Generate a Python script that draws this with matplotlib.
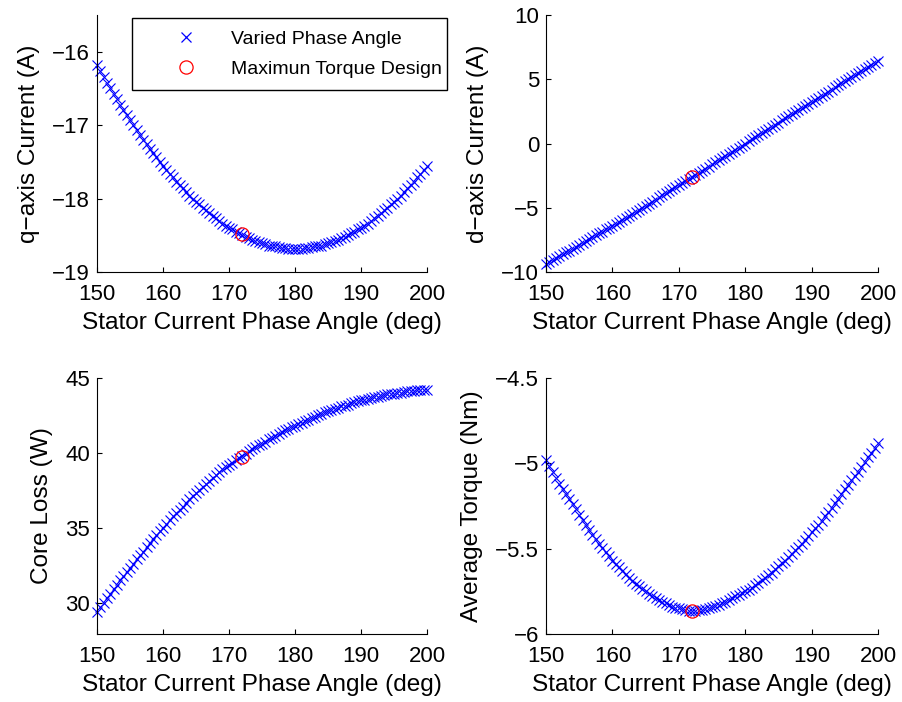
import matplotlib
matplotlib.use("Agg")
import matplotlib.pyplot as plt
from matplotlib.lines import Line2D

# Stator current phase angle sweep (deg)
phase_angle = [150.0, 150.5, 151.0, 151.5, 152.0, 152.5, 153.0, 153.5, 154.0, 154.5,
               155.0, 155.5, 156.0, 156.5, 157.0, 157.5, 158.0, 158.5, 159.0, 159.5,
               160.0, 160.5, 161.0, 161.5, 162.0, 162.5, 163.0, 163.5, 164.0, 164.5,
               165.0, 165.5, 166.0, 166.5, 167.0, 167.5, 168.0, 168.5, 169.0, 169.5,
               170.0, 170.5, 171.0, 171.5, 172.0, 172.5, 173.0, 173.5, 174.0, 174.5,
               175.0, 175.5, 176.0, 176.5, 177.0, 177.5, 178.0, 178.5, 179.0, 179.5,
               180.0, 180.5, 181.0, 181.5, 182.0, 182.5, 183.0, 183.5, 184.0, 184.5,
               185.0, 185.5, 186.0, 186.5, 187.0, 187.5, 188.0, 188.5, 189.0, 189.5,
               190.0, 190.5, 191.0, 191.5, 192.0, 192.5, 193.0, 193.5, 194.0, 194.5,
               195.0, 195.5, 196.0, 196.5, 197.0, 197.5, 198.0, 198.5, 199.0, 199.5,
               200.0]

q_current = [-16.18, -16.26, -16.34, -16.42, -16.49, -16.57, -16.64, -16.72, -16.79, -16.86,
             -16.93, -17.00, -17.06, -17.13, -17.20, -17.26, -17.32, -17.38, -17.44, -17.50,
             -17.55, -17.61, -17.66, -17.71, -17.77, -17.82, -17.86, -17.91, -17.96, -18.00,
             -18.04, -18.08, -18.13, -18.16, -18.20, -18.24, -18.27, -18.30, -18.34, -18.37,
             -18.40, -18.42, -18.45, -18.47, -18.50, -18.52, -18.54, -18.56, -18.58, -18.59,
             -18.61, -18.62, -18.64, -18.64, -18.65, -18.66, -18.67, -18.67, -18.68, -18.68,
             -18.68, -18.68, -18.68, -18.67, -18.67, -18.66, -18.65, -18.64, -18.64, -18.62,
             -18.61, -18.59, -18.58, -18.56, -18.54, -18.52, -18.50, -18.47, -18.45, -18.42,
             -18.40, -18.37, -18.34, -18.30, -18.27, -18.24, -18.20, -18.16, -18.13, -18.08,
             -18.04, -18.00, -17.96, -17.91, -17.86, -17.82, -17.77, -17.71, -17.66, -17.61,
             -17.55]

d_current = [-9.34, -9.20, -9.06, -8.91, -8.77, -8.62, -8.48, -8.34, -8.19, -8.04,
             -7.89, -7.75, -7.60, -7.45, -7.30, -7.15, -7.00, -6.85, -6.69, -6.54,
             -6.39, -6.24, -6.08, -5.93, -5.77, -5.62, -5.46, -5.31, -5.15, -4.99,
             -4.83, -4.68, -4.52, -4.36, -4.20, -4.04, -3.88, -3.72, -3.56, -3.40,
             -3.24, -3.08, -2.92, -2.76, -2.60, -2.44, -2.28, -2.11, -1.95, -1.79,
             -1.63, -1.47, -1.30, -1.14, -0.98, -0.81, -0.65, -0.49, -0.33, -0.16,
             0.00, 0.16, 0.33, 0.49, 0.65, 0.81, 0.98, 1.14, 1.30, 1.47,
             1.63, 1.79, 1.95, 2.11, 2.28, 2.44, 2.60, 2.76, 2.92, 3.08,
             3.24, 3.40, 3.56, 3.72, 3.88, 4.04, 4.20, 4.36, 4.52, 4.68,
             4.83, 4.99, 5.15, 5.31, 5.46, 5.62, 5.77, 5.93, 6.08, 6.24,
             6.39]

core_loss = [29.4, 29.7, 30.0, 30.3, 30.6, 30.9, 31.2, 31.5, 31.8, 32.05,
             32.3, 32.6, 32.9, 33.15, 33.4, 33.7, 34.0, 34.25, 34.5, 34.75,
             35.0, 35.25, 35.5, 35.75, 36.0, 36.2, 36.4, 36.65, 36.9, 37.1,
             37.3, 37.5, 37.7, 37.9, 38.1, 38.3, 38.5, 38.7, 38.9, 39.05,
             39.2, 39.35, 39.5, 39.65, 39.8, 39.95, 40.1, 40.25, 40.4, 40.5,
             40.6, 40.75, 40.9, 41.0, 41.1, 41.25, 41.4, 41.5, 41.6, 41.7,
             41.8, 41.9, 42.0, 42.1, 42.2, 42.3, 42.4, 42.5, 42.6, 42.7,
             42.8, 42.85, 42.9, 43.0, 43.1, 43.15, 43.2, 43.3, 43.4, 43.45,
             43.5, 43.55, 43.6, 43.65, 43.7, 43.75, 43.8, 43.85, 43.9, 43.93,
             43.95, 43.98, 44.0, 44.05, 44.1, 44.13, 44.15, 44.18, 44.2, 44.2,
             44.2]

avg_torque = [-4.98, -5.015, -5.05, -5.085, -5.12, -5.15, -5.18, -5.21, -5.24, -5.27,
              -5.30, -5.33, -5.36, -5.39, -5.42, -5.445, -5.47, -5.495, -5.52, -5.545,
              -5.57, -5.59, -5.61, -5.63, -5.65, -5.67, -5.69, -5.705, -5.72, -5.735,
              -5.75, -5.765, -5.78, -5.79, -5.80, -5.81, -5.82, -5.83, -5.84, -5.845,
              -5.85, -5.855, -5.86, -5.863, -5.865, -5.863, -5.86, -5.858, -5.855, -5.848,
              -5.84, -5.835, -5.83, -5.82, -5.81, -5.80, -5.79, -5.78, -5.77, -5.76,
              -5.75, -5.74, -5.73, -5.715, -5.70, -5.685, -5.67, -5.655, -5.64, -5.62,
              -5.60, -5.585, -5.57, -5.55, -5.53, -5.51, -5.49, -5.47, -5.45, -5.425,
              -5.40, -5.38, -5.36, -5.335, -5.31, -5.285, -5.26, -5.235, -5.21, -5.18,
              -5.15, -5.125, -5.10, -5.075, -5.05, -5.02, -4.99, -4.965, -4.94, -4.91,
              -4.88]

# Maximum torque design point
design_angle = 172
design_q = -18.48
design_d = -2.60
design_loss = 39.7
design_torque = -5.865

x_ticks = [150, 160, 170, 180, 190, 200]
x_label = "Stator Current Phase Angle (deg)"

plt.rcParams["font.family"] = ["Liberation Sans", "DejaVu Sans"]
plt.rcParams["font.size"] = 16

fig = plt.figure(figsize=(9.02, 7.02), dpi=100)

W, H = 902.0, 702.0


def make_axes(x0, x1, y0, y1):
    return fig.add_axes([x0 / W, 1 - y1 / H, (x1 - x0) / W, (y1 - y0) / H])


panels = [
    (make_axes(97, 427, 15, 272), q_current, design_q, "q\u2212axis Current (A)",
     (-19, -15.5), [-19, -18, -17, -16], ["\u221219", "\u221218", "\u221217", "\u221216"]),
    (make_axes(546, 878, 15, 272), d_current, design_d, "d\u2212axis Current (A)",
     (-10, 10), [-10, -5, 0, 5, 10], ["\u221210", "\u22125", "0", "5", "10"]),
    (make_axes(97, 427, 378, 634), core_loss, design_loss, "Core Loss (W)",
     (27.9, 45), [30, 35, 40, 45], ["30", "35", "40", "45"]),
    (make_axes(546, 878, 378, 634), avg_torque, design_torque, "Average Torque (Nm)",
     (-6, -4.5), [-6, -5.5, -5, -4.5], ["\u22126", "\u22125.5", "\u22125", "\u22124.5"]),
]

for ax, values, design_val, ylab, ylim, yticks, yticklabels in panels:
    ax.plot(phase_angle, values, linestyle="none", marker="x", color=(0, 0, 1),
            markersize=7, markeredgewidth=0.8, clip_on=False)
    ax.plot([design_angle], [design_val], linestyle="none", marker="o",
            markerfacecolor="none", markeredgecolor=(1, 0, 0), markersize=9.5,
            markeredgewidth=0.9, clip_on=False)
    ax.set_xlim(150, 200)
    ax.set_ylim(*ylim)
    ax.set_xticks(x_ticks)
    ax.set_yticks(yticks)
    ax.set_yticklabels(yticklabels)
    ax.set_xlabel(x_label, fontsize=17.6, labelpad=5)
    ax.set_ylabel(ylab, fontsize=17.6, labelpad=9)
    for side in ("top", "right"):
        ax.spines[side].set_visible(False)
    for side in ("left", "bottom"):
        ax.spines[side].set_linewidth(0.8)
    ax.tick_params(direction="in", length=3.5, width=0.8, labelsize=16)
    ax.tick_params(axis="x", pad=9)
    ax.tick_params(axis="y", pad=5)

handles = [
    Line2D([], [], linestyle="none", marker="x", color=(0, 0, 1), markersize=7,
           markeredgewidth=0.9),
    Line2D([], [], linestyle="none", marker="o", markerfacecolor="none",
           markeredgecolor=(1, 0, 0), markersize=9.5, markeredgewidth=0.9),
]
leg = fig.legend(handles, ["Varied Phase Angle", "Maximun Torque Design"],
                 loc="upper left",
                 bbox_to_anchor=(132 / W, 1 - 18 / H, (447 - 132) / W, 0.0),
                 mode="expand", fancybox=False, framealpha=1, edgecolor="black",
                 handlelength=4.3, handletextpad=0.15, borderpad=0.65,
                 labelspacing=0.6, borderaxespad=0, fontsize=14)
leg.get_frame().set_linewidth(1.0)

fig.savefig("out.png", dpi=100)
